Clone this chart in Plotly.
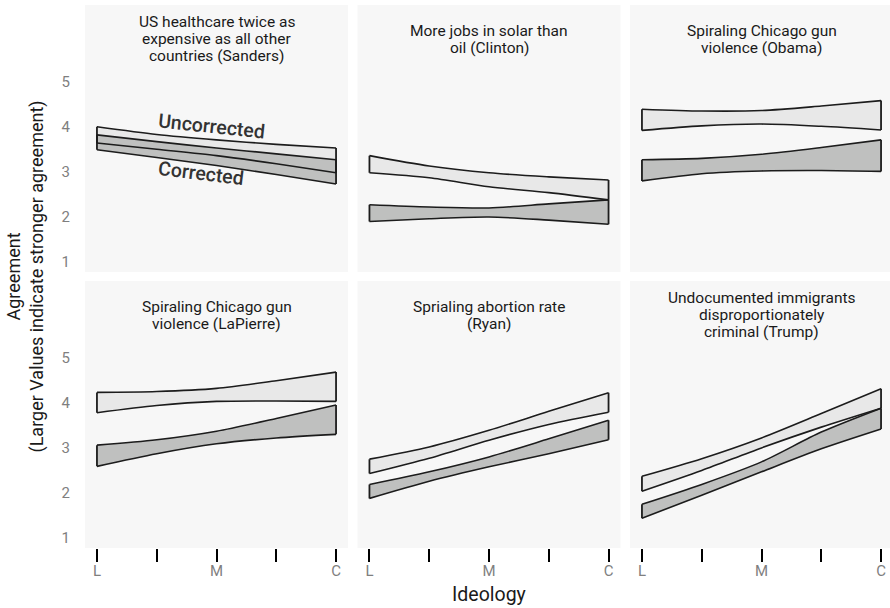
import plotly.graph_objects as go

# Ideology positions (L = liberal, M = moderate, C = conservative)
ideology = [0.0, 0.25, 0.5, 0.75, 1.0]
tick_vals = [0.0, 0.25, 0.5, 0.75, 1.0]
tick_text = ["L", "", "M", "", "C"]
y_ticks = [1, 2, 3, 4, 5]

titles = [
    ["US healthcare twice as", "expensive as all other", "countries (Sanders)"],
    ["More jobs in solar than", "oil (Clinton)"],
    ["Spiraling Chicago gun", "violence (Obama)"],
    ["Spiraling Chicago gun", "violence (LaPierre)"],
    ["Sprialing abortion rate", "(Ryan)"],
    ["Undocumented immigrants", "disproportionately", "criminal (Trump)"],
]

# Interval bounds of predicted agreement, uncorrected and corrected
sanders_unc_hi = [4.00, 3.83, 3.71, 3.61, 3.53]
sanders_unc_lo = [3.64, 3.50, 3.36, 3.18, 2.98]
sanders_cor_hi = [3.82, 3.67, 3.53, 3.40, 3.27]
sanders_cor_lo = [3.49, 3.32, 3.14, 2.94, 2.73]

clinton_unc_hi = [3.36, 3.13, 2.98, 2.89, 2.82]
clinton_unc_lo = [2.98, 2.87, 2.67, 2.54, 2.38]
clinton_cor_hi = [2.27, 2.22, 2.20, 2.29, 2.38]
clinton_cor_lo = [1.90, 1.96, 2.00, 1.93, 1.84]

obama_unc_hi = [4.39, 4.35, 4.36, 4.46, 4.58]
obama_unc_lo = [3.92, 4.02, 4.06, 4.01, 3.93]
obama_cor_hi = [3.27, 3.30, 3.39, 3.54, 3.71]
obama_cor_lo = [2.80, 2.96, 3.02, 3.03, 3.01]

lapierre_unc_hi = [4.23, 4.25, 4.32, 4.49, 4.68]
lapierre_unc_lo = [3.78, 3.94, 4.03, 4.04, 4.03]
lapierre_cor_hi = [3.06, 3.18, 3.37, 3.65, 3.95]
lapierre_cor_lo = [2.59, 2.87, 3.09, 3.22, 3.30]

ryan_unc_hi = [2.75, 3.02, 3.39, 3.81, 4.22]
ryan_unc_lo = [2.43, 2.77, 3.17, 3.52, 3.79]
ryan_cor_hi = [2.19, 2.47, 2.80, 3.20, 3.61]
ryan_cor_lo = [1.88, 2.26, 2.58, 2.87, 3.18]

trump_unc_hi = [2.37, 2.76, 3.22, 3.76, 4.31]
trump_unc_lo = [2.04, 2.50, 3.00, 3.46, 3.88]
trump_cor_hi = [1.75, 2.19, 2.69, 3.35, 3.88]
trump_cor_lo = [1.44, 1.95, 2.47, 2.98, 3.42]

panels = [
    (sanders_unc_hi, sanders_unc_lo, sanders_cor_hi, sanders_cor_lo),
    (clinton_unc_hi, clinton_unc_lo, clinton_cor_hi, clinton_cor_lo),
    (obama_unc_hi, obama_unc_lo, obama_cor_hi, obama_cor_lo),
    (lapierre_unc_hi, lapierre_unc_lo, lapierre_cor_hi, lapierre_cor_lo),
    (ryan_unc_hi, ryan_unc_lo, ryan_cor_hi, ryan_cor_lo),
    (trump_unc_hi, trump_unc_lo, trump_cor_hi, trump_cor_lo),
]

FONT = "Roboto"
UNC_FILL = "#e8e8e8"
COR_FILL = "#bfc0bf"
OUTLINE = "#1c1c1c"
PANEL_BG = "#f7f7f7"
TICK_GRAY = "#7f7f7f"

W, H = 890, 608
ML, MR, MT, MB = 85, 0, 5, 60
PW = W - ML - MR
PH = H - MT - MB
panel_w = 263.0
gap_x = 9.5
row_h = 267.0
gap_y = 9.0

x_domains = [
    [0, panel_w / PW],
    [(panel_w + gap_x) / PW, (2 * panel_w + gap_x) / PW],
    [(2 * panel_w + 2 * gap_x) / PW, 1.0],
]
y_domains = [[(row_h + gap_y) / PH, 1.0], [0, row_h / PH]]
Y_RANGE = [0.78, 6.70]
X_SPAN = 1.1  # data units per full panel width
PX_PER_Y = row_h / (Y_RANGE[1] - Y_RANGE[0])

fig = go.Figure()
layout = dict(
    width=W, height=H,
    margin=dict(l=ML, r=MR, t=MT, b=MB),
    paper_bgcolor="white",
    plot_bgcolor=PANEL_BG,
    showlegend=False,
    font=dict(family=FONT),
)
annotations = []


def add_band(xa, ya, hi, lo, fill):
    fig.add_trace(go.Scatter(x=ideology, y=lo, mode="lines",
                             line=dict(width=0, shape="spline", smoothing=0.8),
                             xaxis=xa, yaxis=ya, hoverinfo="skip"))
    fig.add_trace(go.Scatter(x=ideology, y=hi, mode="lines", fill="tonexty",
                             fillcolor=fill,
                             line=dict(width=0, shape="spline", smoothing=0.8),
                             xaxis=xa, yaxis=ya, hoverinfo="skip"))


def add_outline(xa, ya, hi, lo):
    for ys in (hi, lo):
        fig.add_trace(go.Scatter(x=ideology, y=ys, mode="lines",
                                 line=dict(color=OUTLINE, width=1.6,
                                           shape="spline", smoothing=0.8),
                                 xaxis=xa, yaxis=ya, hoverinfo="skip"))
    fig.add_trace(go.Scatter(x=[ideology[0], ideology[0], None, ideology[-1], ideology[-1]],
                             y=[lo[0], hi[0], None, lo[-1], hi[-1]],
                             mode="lines", line=dict(color=OUTLINE, width=1.8),
                             xaxis=xa, yaxis=ya, hoverinfo="skip"))


for i, (u_hi, u_lo, c_hi, c_lo) in enumerate(panels):
    row, col = divmod(i, 3)
    n = i + 1
    xa = "x" if n == 1 else f"x{n}"
    ya = "y" if n == 1 else f"y{n}"
    xkey = "xaxis" if n == 1 else f"xaxis{n}"
    ykey = "yaxis" if n == 1 else f"yaxis{n}"

    add_band(xa, ya, u_hi, u_lo, UNC_FILL)
    add_band(xa, ya, c_hi, c_lo, COR_FILL)
    add_outline(xa, ya, u_hi, u_lo)
    add_outline(xa, ya, c_hi, c_lo)

    dom = x_domains[col]
    width_px = (dom[1] - dom[0]) * PW
    x_lo = -0.05
    x_hi = x_lo + X_SPAN * width_px / panel_w

    bottom = row == 1
    layout[xkey] = dict(
        domain=dom, range=[x_lo, x_hi], anchor=ya,
        showgrid=False, zeroline=False, showline=False,
        tickmode="array", tickvals=tick_vals, ticktext=tick_text,
        ticks="outside" if bottom else "", ticklen=13, tickwidth=2.2,
        tickcolor="black", showticklabels=bottom,
        tickfont=dict(family=FONT, size=15, color=TICK_GRAY),
        ticklabelstandoff=-4,
    )
    layout[ykey] = dict(
        domain=y_domains[row], range=Y_RANGE, anchor=xa,
        showgrid=False, zeroline=False, showline=False,
        tickmode="array", tickvals=y_ticks, ticks="",
        showticklabels=(col == 0),
        tickfont=dict(family=FONT, size=15, color=TICK_GRAY),
        ticklabelstandoff=14,
    )

    # facet title, one line per annotation so the line spacing stays tight
    lines = titles[i]
    center_px = 34.0
    for k, line in enumerate(lines):
        off_px = center_px + (k - (len(lines) - 1) / 2) * 17.0
        annotations.append(dict(
            text=line, x=0.5, y=Y_RANGE[1] - off_px / PX_PER_Y, xref=xa, yref=ya,
            xanchor="center", yanchor="middle", showarrow=False,
            font=dict(family=FONT, size=15.5, color="#1a1a1a"),
        ))

# Band labels in the first panel
annotations.append(dict(text="Uncorrected", x=0.48, y=4.0, xref="x", yref="y",
                        showarrow=False, textangle=6,
                        font=dict(family=FONT, size=19.5, color="#333333", weight=500)))
annotations.append(dict(text="Corrected", x=0.435, y=2.96, xref="x", yref="y",
                        showarrow=False, textangle=7,
                        font=dict(family=FONT, size=19.5, color="#333333", weight=500)))

# Axis titles
center_x = (x_domains[1][0] + x_domains[1][1]) / 2
annotations.append(dict(text="Ideology", x=center_x, y=(H - MB - 594) / PH,
                        xref="paper", yref="paper",
                        showarrow=False, xanchor="center", yanchor="middle",
                        font=dict(family=FONT, size=19.5, color="#1a1a1a")))
annotations.append(dict(text="Agreement<br>(Larger Values indicate stronger agreement)",
                        x=(25 - ML) / PW, y=0.5, xref="paper", yref="paper",
                        showarrow=False, textangle=-90, xanchor="center", yanchor="middle",
                        font=dict(family=FONT, size=18, color="#1a1a1a")))

layout["annotations"] = annotations
fig.update_layout(**layout)
fig.write_html("out.html")
